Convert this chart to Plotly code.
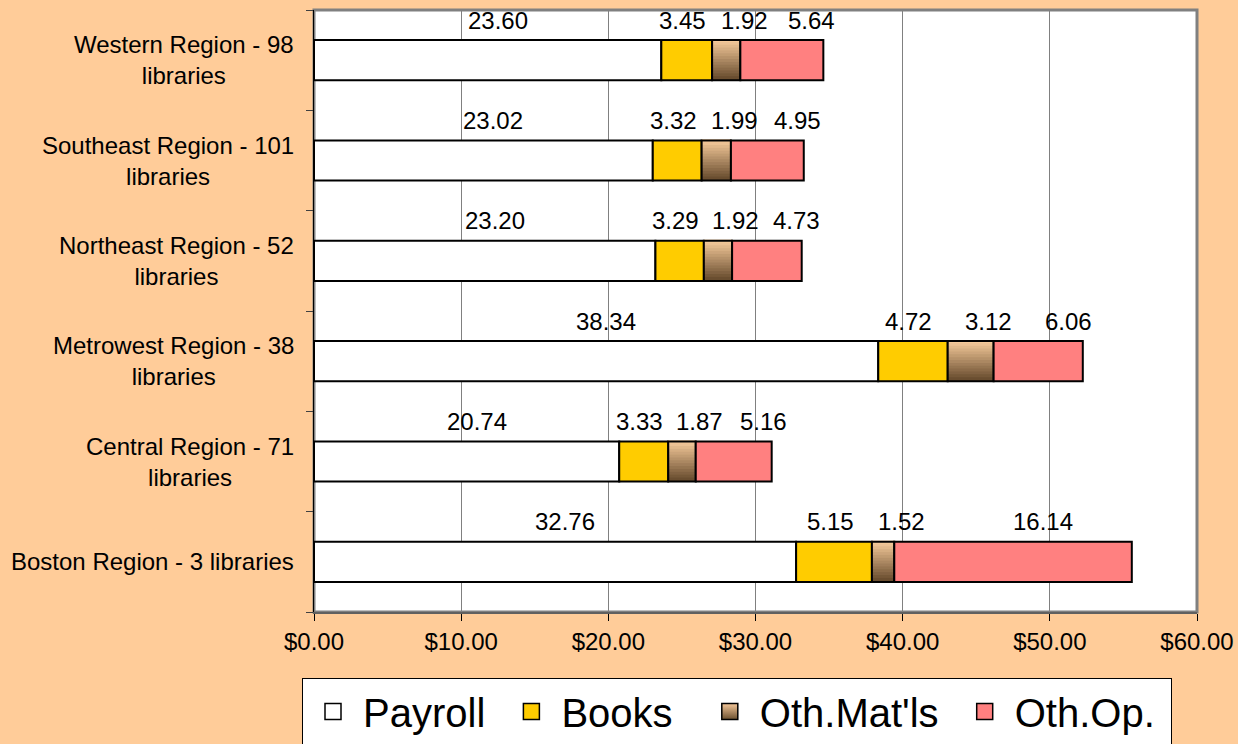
import plotly.graph_objects as go

# Regions from bottom to top (as drawn)
regions = ["Boston Region - 3 libraries",
           "Central Region - 71<br>libraries",
           "Metrowest Region - 38<br>libraries",
           "Northeast Region - 52<br>libraries",
           "Southeast Region - 101<br>libraries",
           "Western Region - 98<br>libraries"]

payroll = [32.76, 20.74, 38.34, 23.20, 23.02, 23.60]
books = [5.15, 3.33, 4.72, 3.29, 3.32, 3.45]
oth_mats = [1.52, 1.87, 3.12, 1.92, 1.99, 1.92]
oth_op = [16.14, 5.16, 6.06, 4.73, 4.95, 5.64]

series = [("Payroll", payroll, "#FFFFFF"),
          ("Books", books, "#FFCC00"),
          ("Oth.Mat'ls", oth_mats, "#B48A62"),
          ("Oth.Op.", oth_op, "#FF8080")]

# label nudges so small neighbouring labels don't collide (px)
label_shift = {"Payroll": 10, "Books": -4, "Oth.Mat'ls": 18, "Oth.Op.": 30}
legend_pad = {"Payroll": 1, "Books": 2, "Oth.Mat'ls": 1, "Oth.Op.": 1}

idx = list(range(len(regions)))
BW = 0.4  # bar thickness

def mix(c1, c2, t):
    a = [int(c1[i:i + 2], 16) for i in (1, 3, 5)]
    b = [int(c2[i:i + 2], 16) for i in (1, 3, 5)]
    return "rgb(%d,%d,%d)" % tuple(round(a[j] + (b[j] - a[j]) * t) for j in range(3))

fig = go.Figure()
base = [0] * len(regions)
for name, vals, col in series:
    b = list(base)
    if name == "Oth.Mat'ls":
        # vertical gradient light tan -> dark brown, drawn as thin strips
        n = 14
        step = BW / n
        for k in range(n):
            fig.add_trace(go.Bar(y=idx, x=vals, base=b, orientation='h',
                                 width=step * 1.4, offset=BW / 2 - (k + 1) * step,
                                 marker=dict(color=mix("#F7CC9C", "#6A4E30", k / (n - 1)),
                                             line=dict(width=0)),
                                 hoverinfo='skip', showlegend=False))
        fig.add_trace(go.Bar(y=idx, x=vals, base=b, orientation='h', width=BW,
                             marker=dict(color='rgba(0,0,0,0)', line=dict(color='black', width=2)),
                             hoverinfo='skip', showlegend=False))
    else:
        fig.add_trace(go.Bar(y=idx, x=vals, base=b, name=name, orientation='h', width=BW,
                             marker=dict(color=col, line=dict(color='black', width=2)),
                             hoverinfo='skip', showlegend=False))
    base = [base[i] + vals[i] for i in idx]

# legend proxies (bigger square symbols than bar legends)
for name, vals, col in series:
    mk = dict(symbol='square', size=16, color=col, line=dict(color='black', width=1.5))
    if name == "Oth.Mat'ls":
        mk = dict(symbol='square', size=16, color='#F5C89A',
                  gradient=dict(type='vertical', color='#6B5030'),
                  line=dict(color='black', width=1.5))
    fig.add_trace(go.Scatter(x=[None], y=[None], mode='markers',
                             name=name + "\u00a0" * legend_pad[name],
                             marker=mk, hoverinfo='skip'))

# value labels above each segment
base = [0] * len(regions)
for name, vals, col in series:
    for i, v in enumerate(vals):
        fig.add_annotation(x=base[i] + v / 2, y=i + 0.40, xref='x', yref='y',
                           text=f"{v:.2f}", showarrow=False, xshift=label_shift[name],
                           font=dict(size=24, color='black'))
        base[i] += v

# category labels, centered lines
for i, lab in enumerate(regions):
    fig.add_annotation(x=-0.02, y=i, xref='paper', yref='y', text=lab,
                       showarrow=False, xanchor='right', align='center',
                       font=dict(size=24, color='black'))

# plot area border
fig.add_shape(type='rect', xref='paper', yref='paper', x0=0, x1=1, y0=0, y1=1,
              line=dict(color='#808080', width=3), layer='below')

fig.update_layout(
    barmode='overlay', width=1238, height=744,
    paper_bgcolor='#FFCC99', plot_bgcolor='white',
    margin=dict(l=314, r=41, t=10, b=132, autoexpand=False),
    font=dict(family='Liberation Sans, Arial, sans-serif', color='black'),
    xaxis=dict(range=[0, 60], dtick=10, tickformat='$.2f', showgrid=True,
               gridcolor='#808080', gridwidth=1, zeroline=False,
               ticks='outside', ticklen=7, tickcolor='black',
               showline=True, linecolor='#606060', linewidth=2,
               tickfont=dict(size=24)),
    yaxis=dict(range=[-0.5, 5.5], tickvals=[i - 0.5 for i in idx] + [5.5],
               showticklabels=False, ticks='outside', ticklen=7,
               tickcolor='#404040', showgrid=False, zeroline=False,
               showline=True, linecolor='black', linewidth=1),
    legend=dict(orientation='h', xref='container', yref='container',
                x=302 / 1238, y=1 - 678 / 744, xanchor='left', yanchor='top',
                bgcolor='white', bordercolor='black', borderwidth=1,
                font=dict(size=40), traceorder='normal', itemsizing='trace',
                itemwidth=50),
)

fig.write_html("out.html", config={'displayModeBar': False},
               post_script="document.body.style.margin='0';")
